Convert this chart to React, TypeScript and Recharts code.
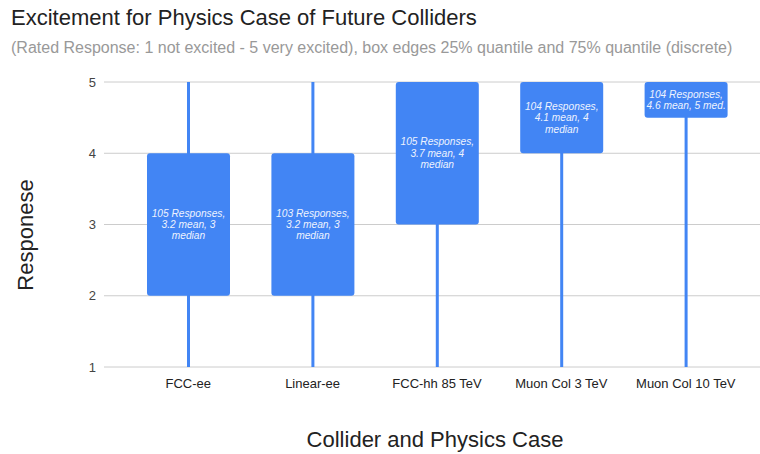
import React from 'react';
import { ComposedChart, Bar, XAxis, YAxis, CartesianGrid } from 'recharts';

// colliders on the x axis
const colliders = ['FCC-ee', 'Linear-ee', 'FCC-hh 85 TeV', 'Muon Col 3 TeV', 'Muon Col 10 TeV'];

// whisker ends and box edges (25% / 75% quantile)
const minValues = [1, 1, 1, 1, 1];
const maxValues = [5, 5, 5, 5, 5];
const q1Values = [2, 2, 3, 4, 4.5];
const q3Values = [4, 4, 5, 5, 5];

// text written inside each box
const boxNotes = [
  ['105 Responses,', '3.2 mean, 3', 'median'],
  ['103 Responses,', '3.2 mean, 3', 'median'],
  ['105 Responses,', '3.7 mean, 4', 'median'],
  ['104 Responses,', '4.1 mean, 4', 'median'],
  ['104 Responses,', '4.6 mean, 5 med.'],
];

const yTicks = [1, 2, 3, 4, 5];

const data = colliders.map((name, i) => ({
  name,
  whisker: [minValues[i], maxValues[i]],
  box: [q1Values[i], q3Values[i]],
  notes: boxNotes[i],
}));

const FONT = '"Liberation Sans", Arial, sans-serif';
const BLUE = '#4285f4';

const BoxShape = (props: any) => {
  const { x, y, width, height, payload } = props;
  const lines: string[] = payload.notes;
  const lh = 11.4;
  const cy = y + height / 2;
  const startY = cy - ((lines.length - 1) * lh) / 2;
  return (
    <g>
      <rect x={x} y={y} width={width} height={height} rx={3} ry={3} fill={BLUE} />
      <text
        x={x + width / 2}
        textAnchor="middle"
        fontFamily={FONT}
        fontSize={10.2}
        fontStyle="italic"
        fill="#eef3fe"
      >
        {lines.map((l, k) => (
          <tspan key={k} x={x + width / 2} y={startY + k * lh} dy="0.35em">
            {l}
          </tspan>
        ))}
      </text>
    </g>
  );
};

export default function App() {
  return (
    <div style={{ position: 'absolute', left: 0, top: 0, width: 760, height: 454, background: '#fff' }}>
      <ComposedChart
        width={760}
        height={454}
        data={data}
        margin={{ top: 82, right: 0, bottom: 57, left: 74 }}
      >
        <CartesianGrid vertical={false} stroke="#cccccc" />
        <XAxis
          xAxisId="box"
          dataKey="name"
          axisLine={false}
          tickLine={false}
          tickSize={0}
          tickMargin={12}
          height={30}
          interval={0}
          padding={{ left: 22, right: 12 }}
          tick={{ fill: '#222', fontSize: 13, fontFamily: FONT }}
        />
        <XAxis xAxisId="whisker" dataKey="name" hide padding={{ left: 22, right: 12 }} />
        <YAxis
          domain={[1, 5]}
          ticks={yTicks}
          width={30}
          axisLine={false}
          tickLine={false}
          tickSize={0}
          tickMargin={8}
          tick={{ fill: '#444', fontSize: 13, fontFamily: FONT }}
        />
        <Bar xAxisId="whisker" dataKey="whisker" barSize={3} fill={BLUE} isAnimationActive={false} />
        <Bar xAxisId="box" dataKey="box" barSize={83} shape={BoxShape} isAnimationActive={false} />
      </ComposedChart>
      {/* titles */}
      <svg width={760} height={454} style={{ position: 'absolute', left: 0, top: 0, pointerEvents: 'none' }}>
        <text x={11} y={25} fontFamily={FONT} fontSize={22} fill="#222">
          Excitement for Physics Case of Future Colliders
        </text>
        <text x={11} y={53} fontFamily={FONT} fontSize={16} fill="#999">
          (Rated Response: 1 not excited - 5 very excited), box edges 25% quantile and 75% quantile (discrete)
        </text>
        <text x={435} y={447} textAnchor="middle" fontFamily={FONT} fontSize={22} fill="#222">
          Collider and Physics Case
        </text>
        <text x={33} y={235} textAnchor="middle" transform="rotate(-90 33 235)" fontFamily={FONT} fontSize={22} fill="#222">
          Responese
        </text>
      </svg>
    </div>
  );
}
